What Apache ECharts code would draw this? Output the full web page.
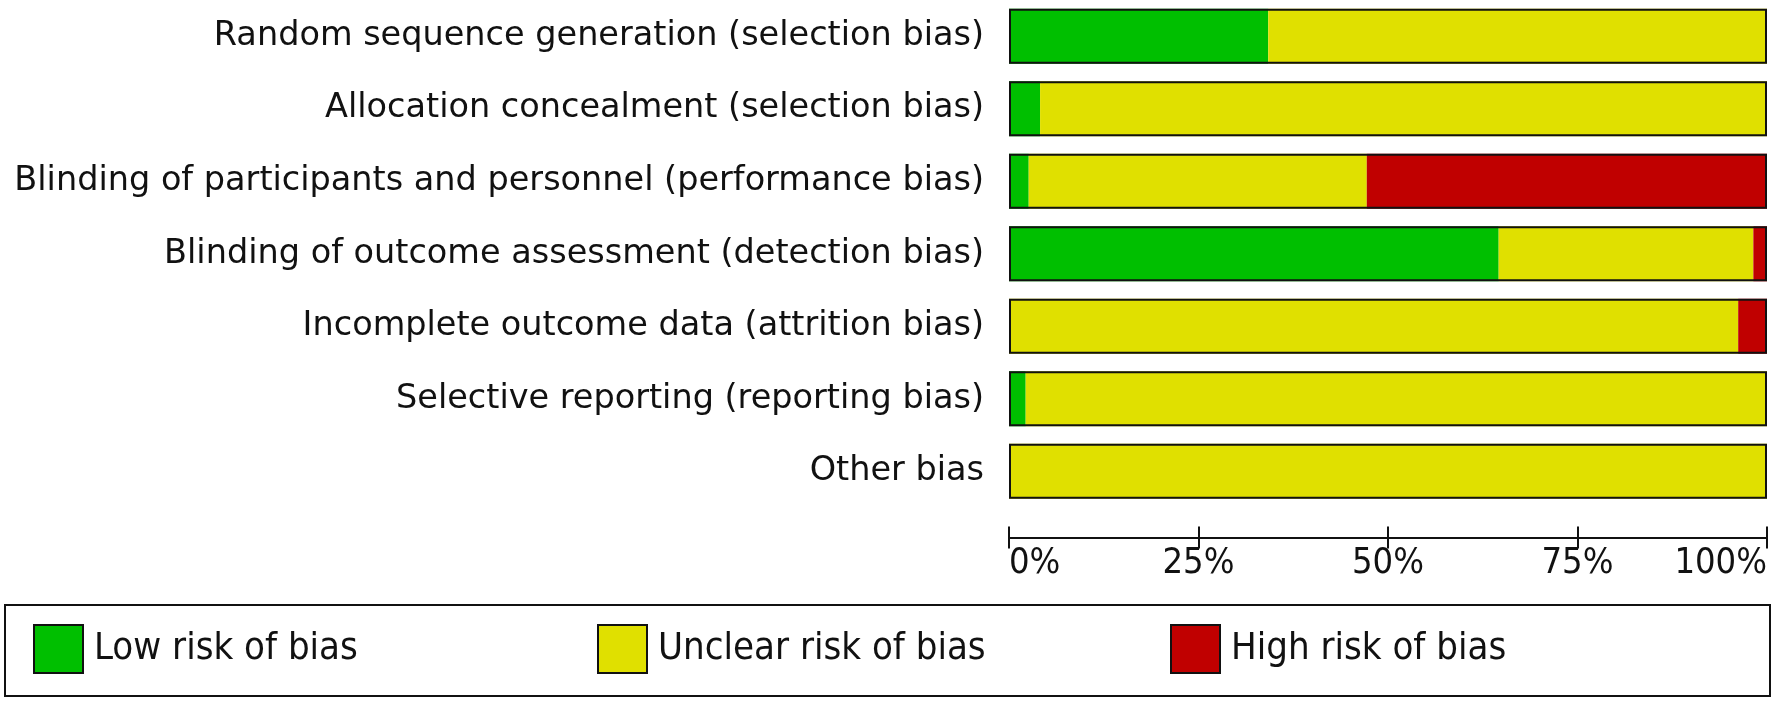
<!DOCTYPE html>
<html>
<head>
<meta charset="utf-8">
<script src="https://cdn.jsdelivr.net/npm/echarts@6/dist/echarts.min.js"></script>
<style>
	html, body { margin: 0; padding: 0; background: #fff; }
	#bias { width: 1776px; height: 701px; }
</style>
</head>
<body>
<div id="bias"></div>
<script>
	const categories = [
		'Random sequence generation (selection bias)',
		'Allocation concealment (selection bias)',
		'Blinding of participants and personnel (performance bias)',
		'Blinding of outcome assessment (detection bias)',
		'Incomplete outcome data (attrition bias)',
		'Selective reporting (reporting bias)',
		'Other bias'
	];
	const lowRisk = [34.2, 4.1, 2.6, 64.6, 0, 2.2, 0];
	const unclearRisk = [65.8, 95.9, 44.6, 33.6, 96.2, 97.8, 100];
	const highRisk = [0, 0, 52.8, 1.8, 3.8, 0, 0];
	const tickValues = [0, 25, 50, 75, 100];

	const colorList = ['#00BF00', '#E0E000', '#C00000'];
	const names = ['Low risk of bias', 'Unclear risk of bias', 'High risk of bias'];
	const narrow = '"DejaVu Sans Condensed", "Liberation Sans Narrow", sans-serif';

	// outline bar length = sum of the three parts of each row
	const totals = categories.map((c, i) => lowRisk[i] + unclearRisk[i] + highRisk[i]);

	let chart = echarts.init(document.getElementById('bias'));

	function part(name, data, color) {
		return {
			name: name,
			type: 'bar',
			stack: 'risk',
			barWidth: 55,
			barGap: '-100%',
			itemStyle: { color: color },
			emphasis: { disabled: true },
			data: data
		};
	}

	function legendAt(left, name) {
		return {
			data: [name],
			left: left,
			top: 624,
			padding: 0,
			itemWidth: 49,
			itemHeight: 48,
			icon: 'rect',
			selectedMode: false,
			itemStyle: { borderColor: '#111', borderWidth: 2 },
			textStyle: {
				fontFamily: narrow,
				fontSize: 38,
				color: '#111',
				padding: [0, 0, 0, 6]
			}
		};
	}

	const xBase = {
		type: 'value',
		min: tickValues[0],
		max: tickValues[tickValues.length - 1],
		interval: 25,
		position: 'bottom',
		offset: 30,
		splitLine: { show: false },
		axisLine: { show: true, lineStyle: { color: '#111', width: 2 } }
	};

	option = {
		backgroundColor: '#fff',
		animation: false,
		color: colorList,
		grid: {
			left: 1009,
			right: 9,
			top: -4,
			height: 511.6,
			containLabel: false
		},
		legend: [
			legendAt(33, names[0]),
			legendAt(597, names[1]),
			legendAt(1170, names[2])
		],
		graphic: [{
			type: 'rect',
			shape: { x: 5, y: 605, width: 1765, height: 91 },
			style: { fill: 'none', stroke: '#111', lineWidth: 2 },
			silent: true
		}],
		xAxis: [
			Object.assign({}, xBase, {
				axisTick: { show: true, inside: true, length: 11, lineStyle: { color: '#111', width: 2 } },
				axisLabel: {
					formatter: '{value}%',
					fontFamily: narrow,
					fontSize: 36,
					color: '#111',
					margin: 8,
					alignMinLabel: 'left',
					alignMaxLabel: 'right'
				}
			}),
			Object.assign({}, xBase, {
				axisTick: { show: true, inside: false, length: 11, lineStyle: { color: '#111', width: 2 } },
				axisLabel: { show: false }
			})
		],
		yAxis: {
			type: 'category',
			inverse: true,
			data: categories,
			axisLine: { show: false },
			axisTick: { show: false },
			axisLabel: {
				fontFamily: '"DejaVu Sans", Verdana, sans-serif',
				fontSize: 33.5,
				color: '#111',
				margin: 25,
				padding: [10, 0, 0, 0]
			}
		},
		series: [
			part(names[0], lowRisk, colorList[0]),
			part(names[1], unclearRisk, colorList[1]),
			part(names[2], highRisk, colorList[2]),
			{
				name: 'outline',
				type: 'bar',
				barWidth: 55,
				barGap: '-100%',
				z: 5,
				silent: true,
				itemStyle: { color: 'transparent', borderColor: '#111', borderWidth: 2 },
				data: totals
			}
		]
	};

	chart.setOption(option);

	window.onresize = function() {
		chart.resize();
	}
</script>
</body>
</html>
